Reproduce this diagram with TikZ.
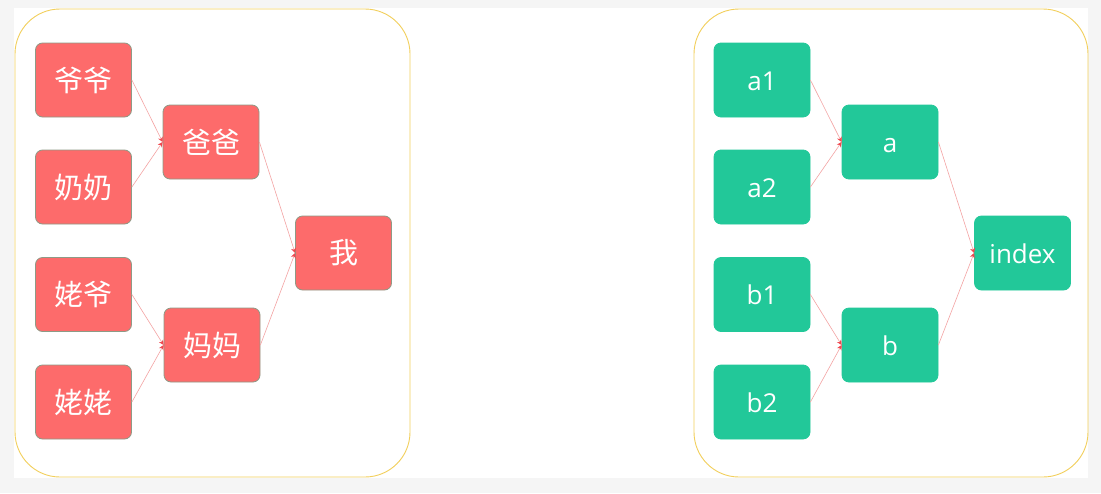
\documentclass[tikz,border=0pt]{standalone}
\usepackage{fontspec}
\setmainfont{Open Sans}
\newfontfamily\cjk{Noto Sans CJK SC}
\usepackage{tikz}
\usetikzlibrary{arrows.meta}
\definecolor{boxred}{HTML}{FD6B6B}
\definecolor{boxgreen}{HTML}{22C899}
\definecolor{boxedge}{HTML}{8E9A86}
\definecolor{panelline}{HTML}{F2CF5B}
\definecolor{linkline}{HTML}{F4A3A3}
\definecolor{tipred}{HTML}{F0484F}
\definecolor{pagegray}{HTML}{F5F5F5}
\tikzset{%
  panel/.style    = {draw=panelline, line width=0.9pt, rounded corners=45pt},
  person/.style   = {rectangle, rounded corners=7pt, draw=boxedge, line width=0.8pt,
    fill=boxred, minimum width=96pt, minimum height=74pt, text=white,
    font=\cjk\fontsize{29}{32}\selectfont},
  table/.style    = {rectangle, rounded corners=7pt, draw=boxgreen, line width=0.8pt,
    fill=boxgreen, minimum width=96pt, minimum height=74pt, text=white,
    text height=20pt, text depth=0pt, font=\fontsize{26}{30}\selectfont},
  link/.style     = {draw=linkline, line width=0.6pt,
    -{Stealth[length=5pt,width=5pt,color=tipred]}}
}
\begin{document}
\begin{tikzpicture}[x=1pt, y=-1pt]
\useasboundingbox[fill=pagegray] (0,0) rectangle (1101,493);
\fill[white] (14,8) rectangle (1088,478);
\draw[panel] (15,9) rectangle (410,477);
\draw[panel] (694,9) rectangle (1088,477);
% left tree
\draw
	node at(83.5,80)[person, name=yeye]{爷爷}
	node at(83.5,187)[person, name=nainai]{奶奶}
	node at(83.5,294.5)[person, name=laoye]{姥爷}
	node at(83.5,402)[person, name=laolao]{姥姥}
	node at(211,142)[person, name=baba]{爸爸}
	node at(212,345)[person, name=mama]{妈妈}
	node at(343.5,253)[person, name=wo]{我};
\draw[link](yeye.east) -- (baba.west);
\draw[link](nainai.east) -- (baba.west);
\draw[link](laoye.east) -- (mama.west);
\draw[link](laolao.east) -- (mama.west);
\draw[link](baba.east) -- (wo.west);
\draw[link](mama.east) -- (wo.west);
% right tree
\draw
	node at(762,80)[table, name=a1]{a1}
	node at(762,187)[table, name=a2]{a2}
	node at(762,294.5)[table, name=b1]{b1}
	node at(762,402)[table, name=b2]{b2}
	node at(890,142)[table, name=a]{a}
	node at(890,345)[table, name=b]{b}
	node at(1022.5,253)[table, name=index]{index};
\draw[link](a1.east) -- (a.west);
\draw[link](a2.east) -- (a.west);
\draw[link](b1.east) -- (b.west);
\draw[link](b2.east) -- (b.west);
\draw[link](a.east) -- (index.west);
\draw[link](b.east) -- (index.west);
\end{tikzpicture}
\end{document}
